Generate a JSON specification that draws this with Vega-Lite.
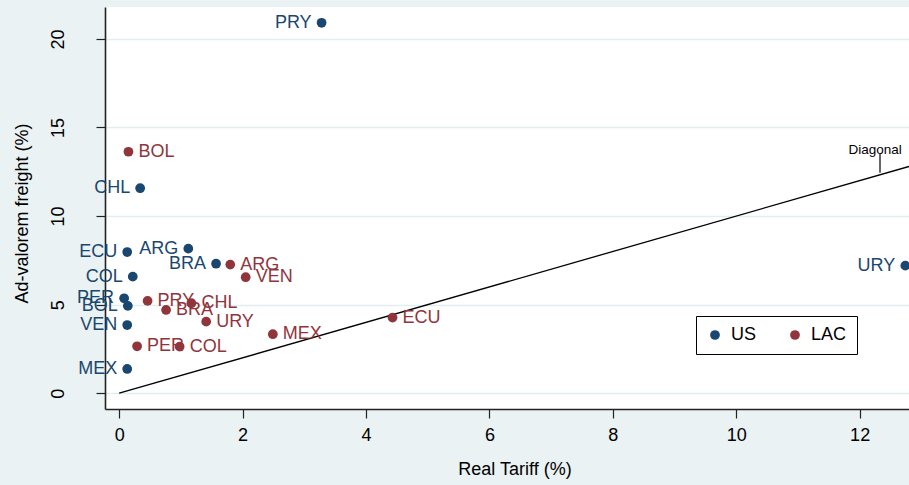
{
  "$schema": "https://vega.github.io/schema/vega-lite/v6.json",
  "autosize": "none",
  "width": 804,
  "height": 402,
  "padding": {"left": 105, "top": 7, "right": 0, "bottom": 76},
  "background": "#eaf2f3",
  "config": {
    "view": {"fill": "white", "stroke": null},
    "font": "Liberation Sans",
    "axis": {"labelFont": "Liberation Sans", "titleFont": "Liberation Sans", "labelColor": "#000", "titleColor": "#000", "titleFontWeight": "normal"}
  },
  "datasets": {
    "pts": [
      {"country": "PRY", "series": "US", "tariff": 3.28, "freight": 20.91},
      {"country": "CHL", "series": "US", "tariff": 0.34, "freight": 11.57},
      {"country": "ECU", "series": "US", "tariff": 0.13, "freight": 7.97},
      {"country": "ARG", "series": "US", "tariff": 1.12, "freight": 8.16},
      {"country": "BRA", "series": "US", "tariff": 1.57, "freight": 7.31},
      {"country": "COL", "series": "US", "tariff": 0.22, "freight": 6.58},
      {"country": "PER", "series": "US", "tariff": 0.08, "freight": 5.36},
      {"country": "BOL", "series": "US", "tariff": 0.14, "freight": 4.93},
      {"country": "VEN", "series": "US", "tariff": 0.13, "freight": 3.85},
      {"country": "MEX", "series": "US", "tariff": 0.13, "freight": 1.37},
      {"country": "URY", "series": "US", "tariff": 12.74, "freight": 7.2},
      {"country": "BOL", "series": "LAC", "tariff": 0.15, "freight": 13.63},
      {"country": "ARG", "series": "LAC", "tariff": 1.8, "freight": 7.26},
      {"country": "VEN", "series": "LAC", "tariff": 2.05, "freight": 6.55},
      {"country": "PRY", "series": "LAC", "tariff": 0.46, "freight": 5.21},
      {"country": "CHL", "series": "LAC", "tariff": 1.17, "freight": 5.08},
      {"country": "BRA", "series": "LAC", "tariff": 0.76, "freight": 4.7},
      {"country": "URY", "series": "LAC", "tariff": 1.41, "freight": 4.04},
      {"country": "MEX", "series": "LAC", "tariff": 2.49, "freight": 3.33},
      {"country": "ECU", "series": "LAC", "tariff": 4.43, "freight": 4.27},
      {"country": "PER", "series": "LAC", "tariff": 0.29, "freight": 2.65},
      {"country": "COL", "series": "LAC", "tariff": 0.98, "freight": 2.63}
    ],
    "diag": [
      {"tariff": 0, "freight": 0},
      {"tariff": 12.8, "freight": 12.8}
    ],
    "note": [
      {"label": "Diagonal", "tickX": 12.33, "tickLow": 12.45, "tickHigh": 13.5, "textX": 12.25}
    ]
  },
  "layer": [
    {
      "data": {"name": "diag"},
      "mark": {"type": "line", "color": "#000", "strokeWidth": 1.3, "clip": true},
      "encoding": {
        "x": {
          "field": "tariff", "type": "quantitative",
          "scale": {"domain": [-0.23, 12.8], "nice": false, "zero": false},
          "axis": {
            "title": "Real Tariff (%)",
            "values": [0, 2, 4, 6, 8, 10, 12],
            "format": "d",
            "grid": false,
            "labelFontSize": 18,
            "titleFontSize": 18,
            "labelPadding": 8,
            "tickSize": 9,
            "tickColor": "#222",
            "tickWidth": 1.2,
            "domainColor": "#222",
            "domainWidth": 1.6,
            "titleX": 409.5,
            "titleY": 65,
            "titleAlign": "center",
            "titleBaseline": "alphabetic"
          }
        },
        "y": {
          "field": "freight", "type": "quantitative",
          "scale": {"domain": [-0.89, 21.8], "nice": false, "zero": false},
          "axis": {
            "title": "Ad-valorem freight (%)",
            "values": [0, 5, 10, 15, 20],
            "format": "d",
            "grid": true,
            "gridColor": "#e4edef",
            "gridWidth": 1.5,
            "labelFontSize": 18,
            "titleFontSize": 18,
            "labelAngle": -90,
            "labelAlign": "center",
            "labelBaseline": "alphabetic",
            "labelPadding": 33,
            "tickSize": 9,
            "tickColor": "#222",
            "tickWidth": 1.2,
            "domainColor": "#222",
            "domainWidth": 1.6,
            "titleX": -78,
            "titleY": 206,
            "titleAngle": -90,
            "titleAlign": "center",
            "titleBaseline": "alphabetic"
          }
        }
      }
    },
    {
      "data": {"name": "note"},
      "mark": {"type": "rule", "color": "#000", "strokeWidth": 1.2},
      "encoding": {
        "x": {"field": "tickX", "type": "quantitative"},
        "y": {"field": "tickLow", "type": "quantitative"},
        "y2": {"field": "tickHigh"}
      }
    },
    {
      "data": {"name": "note"},
      "mark": {"type": "text", "fontSize": 13.5, "color": "#000", "align": "center", "baseline": "alphabetic"},
      "encoding": {
        "x": {"field": "textX", "type": "quantitative"},
        "y": {"field": "tickHigh", "type": "quantitative"},
        "text": {"field": "label"}
      }
    },
    {
      "data": {"name": "pts"},
      "mark": {"type": "point", "filled": true, "opacity": 1, "size": 95},
      "encoding": {
        "x": {"field": "tariff", "type": "quantitative"},
        "y": {"field": "freight", "type": "quantitative"},
        "color": {
          "field": "series", "type": "nominal",
          "scale": {"domain": ["US", "LAC"], "range": ["#1a476f", "#90353b"]},
          "legend": {
            "title": null,
            "orient": "none",
            "legendX": 591,
            "legendY": 309,
            "direction": "horizontal",
            "fillColor": "white",
            "strokeColor": "#000",
            "padding": 10,
            "labelFontSize": 18,
            "labelFont": "Liberation Sans",
            "labelColor": "#000",
            "symbolType": "circle",
            "symbolSize": 95,
            "symbolStrokeWidth": 0,
            "labelOffset": 7,
            "columnPadding": 29
          }
        }
      }
    },
    {
      "data": {"name": "pts"},
      "transform": [{"filter": "datum.series === 'US'"}],
      "mark": {"type": "text", "fontSize": 18, "color": "#1a476f", "align": "right", "baseline": "middle", "dx": -10},
      "encoding": {
        "x": {"field": "tariff", "type": "quantitative"},
        "y": {"field": "freight", "type": "quantitative"},
        "text": {"field": "country"}
      }
    },
    {
      "data": {"name": "pts"},
      "transform": [{"filter": "datum.series === 'LAC'"}],
      "mark": {"type": "text", "fontSize": 18, "color": "#90353b", "align": "left", "baseline": "middle", "dx": 10},
      "encoding": {
        "x": {"field": "tariff", "type": "quantitative"},
        "y": {"field": "freight", "type": "quantitative"},
        "text": {"field": "country"}
      }
    }
  ]
}
